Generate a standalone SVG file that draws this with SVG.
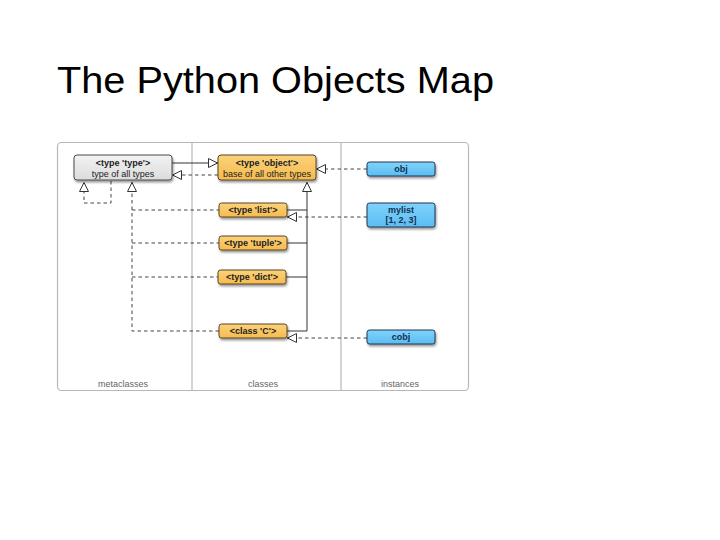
<svg xmlns="http://www.w3.org/2000/svg" width="720" height="540" viewBox="0 0 720 540">
<style>
.title{font-family:"Liberation Sans",Arial,sans-serif;font-size:36px;fill:#000}
.frame{fill:#fff;stroke:#b8b8b8;stroke-width:1.2}
.div{stroke:#b8b8b8;stroke-width:1.2}
.col{font-family:"Liberation Sans",Arial,sans-serif;font-size:9px;fill:#666;text-anchor:middle}
.gray{fill:url(#gg);stroke:#4a4a4a;stroke-width:1}
.orange{fill:url(#og);stroke:#5b4420;stroke-width:1}
.blue{fill:url(#bg);stroke:#1e3550;stroke-width:1}
.bt{font-family:"Liberation Sans",Arial,sans-serif;font-size:9px;font-weight:bold;text-anchor:middle;fill:#222}
.rt{font-family:"Liberation Sans",Arial,sans-serif;font-size:9px;text-anchor:middle;fill:#222}
.bl{font-family:"Liberation Sans",Arial,sans-serif;font-size:9px;font-weight:bold;text-anchor:middle;fill:#13304f}
.solid{fill:none;stroke:#333;stroke-width:1}
.dash{fill:none;stroke:#444;stroke-width:1;stroke-dasharray:3.5,3}
</style>
<defs>
<linearGradient id="gg" x1="0" y1="0" x2="0" y2="1"><stop offset="0" stop-color="#f2f2f2"/><stop offset="1" stop-color="#dcdcdc"/></linearGradient>
<linearGradient id="og" x1="0" y1="0" x2="0" y2="1"><stop offset="0" stop-color="#fbd27a"/><stop offset="1" stop-color="#f5bb50"/></linearGradient>
<linearGradient id="bg" x1="0" y1="0" x2="0" y2="1"><stop offset="0" stop-color="#7fd2fb"/><stop offset="1" stop-color="#5bbdf2"/></linearGradient>
<filter id="sh" x="-20%" y="-30%" width="140%" height="180%"><feDropShadow dx="1" dy="2" stdDeviation="1.2" flood-color="#000" flood-opacity="0.4"/></filter>
<marker id="tri" viewBox="0 0 10 10" refX="10" refY="5" markerWidth="11" markerHeight="10" markerUnits="userSpaceOnUse" orient="auto"><path d="M0.5,0.5 L9.5,5 L0.5,9.5 Z" fill="#fff" stroke="#333" stroke-width="1"/></marker>
</defs>
<text class="title" x="57" y="93" textLength="437" lengthAdjust="spacingAndGlyphs">The Python Objects Map</text>
<g id="frame">
<rect class="frame" x="57.5" y="142.5" width="411" height="248" rx="4"/>
<line class="div" x1="192" y1="142.5" x2="192" y2="390.5"/>
<line class="div" x1="341" y1="142.5" x2="341" y2="390.5"/>
<text class="col" x="123" y="387">metaclasses</text>
<text class="col" x="263" y="387">classes</text>
<text class="col" x="400" y="387">instances</text>
</g>
<g id="connectors">
<path class="solid" d="M172,163 H218" marker-end="url(#tri)"/>
<path class="dash" d="M218,175 H172" marker-end="url(#tri)"/>
<path class="dash" d="M367,169 H316" marker-end="url(#tri)"/>
<path class="dash" d="M367,217 H287" marker-end="url(#tri)"/>
<path class="dash" d="M367,338 H287" marker-end="url(#tri)"/>
<path class="solid" d="M287,331 H307 V182" marker-end="url(#tri)"/>
<path class="solid" d="M287,210 H307 M287,243 H307 M286,277 H307"/>
<path class="dash" d="M111,181 V203 H84 V182" marker-end="url(#tri)"/>
<path class="dash" d="M219,331 H132 V182" marker-end="url(#tri)"/>
<path class="dash" d="M132,210 H219 M132,243 H219 M132,277 H218"/>
</g>
<g id="type">
<rect class="gray" x="74" y="155" width="98" height="25" rx="3" filter="url(#sh)"/>
<text class="bt" x="123" y="166">&lt;type 'type'&gt;</text>
<text class="rt" x="123" y="177">type of all types</text>
</g>
<g id="object">
<rect class="orange" x="218" y="155" width="98" height="25" rx="3" filter="url(#sh)"/>
<text class="bt" x="267" y="166">&lt;type 'object'&gt;</text>
<text class="rt" x="267" y="177">base of all other types</text>
</g>
<g id="list">
<rect class="orange" x="219" y="203" width="68" height="14" rx="2.5" filter="url(#sh)"/>
<text class="bt" x="253" y="213.2">&lt;type 'list'&gt;</text>
</g>
<g id="tuple">
<rect class="orange" x="219" y="236" width="68" height="14" rx="2.5" filter="url(#sh)"/>
<text class="bt" x="253" y="246.2">&lt;type 'tuple'&gt;</text>
</g>
<g id="dict">
<rect class="orange" x="218" y="270" width="68" height="14" rx="2.5" filter="url(#sh)"/>
<text class="bt" x="252" y="280.2">&lt;type 'dict'&gt;</text>
</g>
<g id="classC">
<rect class="orange" x="219" y="324" width="68" height="14" rx="2.5" filter="url(#sh)"/>
<text class="bt" x="253" y="334.2">&lt;class 'C'&gt;</text>
</g>
<g id="obj">
<rect class="blue" x="367" y="162" width="68" height="14" rx="2.5" filter="url(#sh)"/>
<text class="bl" x="401" y="172.2">obj</text>
</g>
<g id="mylist">
<rect class="blue" x="367" y="203" width="68" height="24" rx="2.5" filter="url(#sh)"/>
<text class="bl" x="401" y="213">mylist</text>
<text class="bl" x="401" y="223">[1, 2, 3]</text>
</g>
<g id="cobj">
<rect class="blue" x="367" y="330" width="68" height="14" rx="2.5" filter="url(#sh)"/>
<text class="bl" x="401" y="340.2">cobj</text>
</g>
</svg>
